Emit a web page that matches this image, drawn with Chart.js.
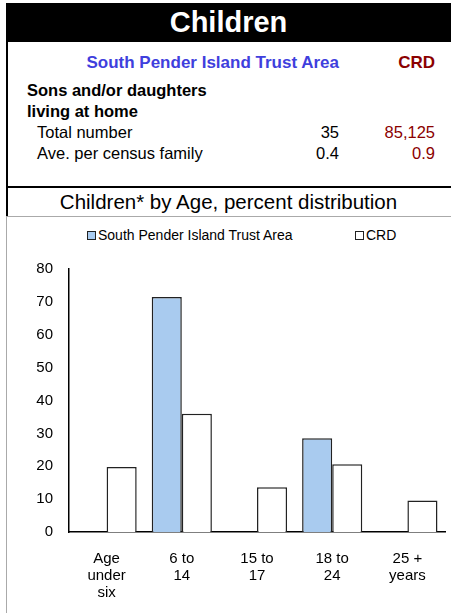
<!DOCTYPE html>
<html>
<head>
<meta charset="utf-8">
<script src="https://cdn.jsdelivr.net/npm/chart.js@4"></script>
<style>
  html, body { margin: 0; padding: 0; background: #fff; }
  body { width: 451px; height: 613px; position: relative; overflow: hidden;
         font-family: "Liberation Sans", Arial, sans-serif; color: #000; }
  .abs { position: absolute; white-space: nowrap; }
  #header { left: 6px; top: 3px; width: 445px; height: 39px; background: #000; color: #fff;
            font-weight: bold; font-size: 29px; line-height: 39px; text-align: center; }
  #leftBorder { left: 6px; top: 3px; width: 2px; height: 213px; background: #000; }
  #rule { left: 6px; top: 186px; width: 445px; height: 2px; background: #000; }
  #grayRule { left: 6px; top: 216px; width: 445px; height: 1px; background: #aaa; }
  #grayLeft { left: 6px; top: 216px; width: 1px; height: 397px; background: #aaa; }
  .r { text-align: right; }
  .t { font-size: 16.5px; line-height: 20px; }
  .b { font-weight: bold; }
  .blue { color: #3f3fdd; }
  .red { color: #8b0000; }
  #subtitle { left: 6px; width: 445px; top: 190px; text-align: center; font-size: 20.5px; line-height: 24px; }
  #legend { left: 7px; width: 444px; top: 227px; font-size: 14px; }
  .lg { position: absolute; top: 0; line-height: 16px; }
  .lg i { display: inline-block; width: 7px; height: 7px; border: 1.5px solid #222; margin-right: 2px; vertical-align: 0px; }
  #wrap { position: absolute; left: 7px; top: 244px; width: 444px; height: 369px; }
</style>
</head>
<body>
<div class="abs" id="header">Children</div>
<div class="abs" id="leftBorder"></div>
<div class="abs" id="rule"></div>
<div class="abs" id="grayRule"></div>
<div class="abs" id="grayLeft"></div>

<div class="abs r t b blue" style="right:112px; top:53px; font-size:17px;">South Pender Island Trust Area</div>
<div class="abs r t b red" style="right:16px; top:53px; font-size:17px;">CRD</div>

<div class="abs t b" style="left:27px; top:80px; line-height:21px;">Sons and/or daughters<br>living at home</div>

<div class="abs t" style="left:37px; top:122px;">Total number</div>
<div class="abs r t" style="right:112px; top:122px;">35</div>
<div class="abs r t red" style="right:16px; top:122px;">85,125</div>

<div class="abs t" style="left:37px; top:143px;">Ave. per census family</div>
<div class="abs r t" style="right:112px; top:143px;">0.4</div>
<div class="abs r t red" style="right:16px; top:143px;">0.9</div>

<div class="abs" id="subtitle">Children* by Age, percent distribution</div>

<div class="abs" id="legend"></div>

<div id="wrap"><canvas id="ageChart"></canvas></div>

<script>
"use strict";

// Chart data
const categories = [["Age", "under", "six"], ["6 to", "14"], ["15 to", "17"], ["18 to", "24"], ["25 +", "years"]];
const seriesNames = ["South Pender Island Trust Area", "CRD"];
const southPender = [0, 71.5, 0, 28.5, 0];
const crd = [19.8, 36, 13.6, 20.6, 9.6];
const yTicks = [0, 10, 20, 30, 40, 50, 60, 70, 80];

const fillColors = ["#a9cbef", "#ffffff"];
const font = "'Liberation Sans', Arial, sans-serif";

// Legend (HTML so spacing matches the original)
const legendEl = document.getElementById('legend');
const legendX = [80, 348];
legendEl.innerHTML = seriesNames.map((name, i) => `
    <div class="lg" style="left:${legendX[i]}px"><i style="background:${fillColors[i]}"></i>${name}</div>
`).join('');

const ctx = document.getElementById('ageChart').getContext('2d');
const chart = new Chart(ctx, {
    type: 'bar',
    data: {
        labels: categories,
        datasets: [
            {
                label: seriesNames[0],
                data: southPender,
                backgroundColor: fillColors[0],
                borderColor: '#222',
                borderWidth: 1.5,
                borderSkipped: 'bottom'
            },
            {
                label: seriesNames[1],
                data: crd,
                backgroundColor: fillColors[1],
                borderColor: '#222',
                borderWidth: 1.5,
                borderSkipped: 'bottom'
            }
        ]
    },
    options: {
        responsive: true,
        maintainAspectRatio: false,
        animation: false,
        categoryPercentage: 0.8,
        barPercentage: 1.0,
        layout: { padding: { top: 11, right: 6, left: 0, bottom: 12 } },
        plugins: {
            legend: { display: false },
            tooltip: { enabled: false }
        },
        scales: {
            x: {
                afterFit: scale => { scale.height = 69; },
                grid: { display: false, drawTicks: false },
                border: { display: true, color: '#000', width: 1.5 },
                ticks: {
                    color: '#000',
                    font: { family: font, size: 15, lineHeight: 1.15 },
                    padding: 18,
                    maxRotation: 0,
                    autoSkip: false
                }
            },
            y: {
                min: 0,
                max: 80,
                afterBuildTicks: scale => { scale.ticks = yTicks.map(v => ({ value: v })); },
                afterFit: scale => { scale.width = 62; },
                grid: { display: false, drawTicks: false },
                border: { display: true, color: '#000', width: 1.5 },
                ticks: {
                    color: '#000',
                    font: { family: font, size: 15 },
                    padding: 16
                }
            }
        }
    }
});
</script>
</body>
</html>
